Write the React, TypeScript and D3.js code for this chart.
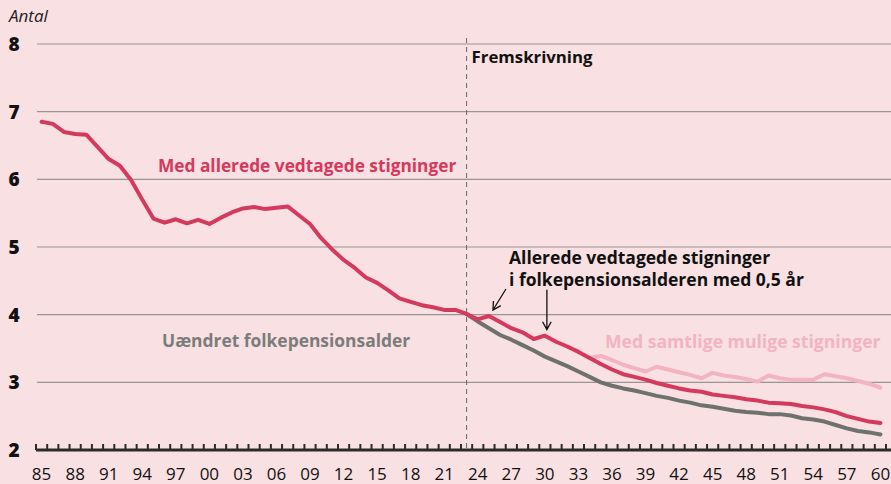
import React from 'react';
import * as d3 from 'd3';

// years and series (antal personer i arbejdsstyrken pr. folkepensionist)
const startYear = 1985;
const endYear = 2060;
const forecastYear = 2023;

const allerede = [
  6.85, 6.82, 6.7, 6.67, 6.66, 6.48, 6.3, 6.2, 5.99, 5.7, 5.42, 5.36, 5.41, 5.35, 5.4, 5.34, 5.43, 5.51, 5.57,
  5.59, 5.56, 5.58, 5.6, 5.47, 5.34, 5.13, 4.96, 4.81, 4.69, 4.55, 4.47, 4.36, 4.24, 4.19, 4.14, 4.11, 4.07,
  4.07, 4.01, 3.93, 3.98, 3.89, 3.8, 3.74, 3.64, 3.69, 3.6, 3.53, 3.45, 3.36, 3.27, 3.19, 3.12, 3.08, 3.04,
  2.99, 2.95, 2.91, 2.88, 2.86, 2.82, 2.8, 2.78, 2.75, 2.73, 2.7, 2.69, 2.68, 2.65, 2.63, 2.6, 2.56, 2.5,
  2.46, 2.42, 2.4,
];
const uaendretStart = 2023;
const uaendret = [
  4.01, 3.9, 3.8, 3.7, 3.63, 3.55, 3.47, 3.38, 3.31, 3.24, 3.16, 3.08, 3.0, 2.95, 2.91, 2.88, 2.84, 2.8, 2.77,
  2.73, 2.7, 2.66, 2.64, 2.61, 2.58, 2.56, 2.55, 2.53, 2.53, 2.51, 2.47, 2.45, 2.42, 2.37, 2.32, 2.28, 2.26,
  2.23,
];
const samtligeStart = 2034;
const samtlige = [
  3.36, 3.39, 3.33, 3.26, 3.21, 3.16, 3.23, 3.19, 3.15, 3.11, 3.06, 3.14, 3.1, 3.08, 3.05, 3.01, 3.1, 3.06,
  3.04, 3.04, 3.04, 3.12, 3.09, 3.06, 3.02, 2.98, 2.92,
];
const yTicks = [2, 3, 4, 5, 6, 7, 8];
const xLabelYears = d3.range(1985, 2061, 3);

const bg = '#f9e0e2';
const red = '#d5395d';
const grey = '#6e716e';
const pink = '#f2b4c1';
const font = "'Open Sans', sans-serif";

type Pt = { year: number; value: number };
const toPts = (start: number, vals: number[]): Pt[] => vals.map((v, i) => ({ year: start + i, value: v }));

export default function App() {
  const width = 891,
    height = 484;

  // scales
  const x = d3.scaleLinear().domain([startYear - 0.5, endYear + 0.5]).range([36, 886]);
  const y = d3.scaleLinear().domain([2, 8]).range([450, 44]);

  const line = d3
    .line<Pt>()
    .x((d) => x(d.year))
    .y((d) => y(d.value));

  const redPts = toPts(startYear, allerede);
  const greyPts = toPts(uaendretStart, uaendret);
  const pinkPts = toPts(samtligeStart, samtlige);

  const tickYears = d3.range(startYear - 0.5, endYear + 1, 1);

  // arrows pointing at the two 0.5-year steps
  const valAt = (yr: number) => allerede[yr - startYear];
  const arrow = (x1: number, y1: number, x2: number, y2: number) => {
    const a = Math.atan2(y2 - y1, x2 - x1);
    const len = 9;
    const h1 = [x2 - len * Math.cos(a - 0.5), y2 - len * Math.sin(a - 0.5)];
    const h2 = [x2 - len * Math.cos(a + 0.5), y2 - len * Math.sin(a + 0.5)];
    return `M${x1},${y1}L${x2},${y2}M${h1[0]},${h1[1]}L${x2},${y2}L${h2[0]},${h2[1]}`;
  };
  const tip1 = [x(2025) + 4, y(valAt(2025)) - 6];
  const tip2 = [x(2030) + 2, y(valAt(2030)) - 6];

  return (
    <svg
      width={width}
      height={height}
      style={{ position: 'absolute', top: 0, left: 0, background: bg }}
      fontFamily={font}
    >
      <rect width={width} height={height} fill={bg} />
      <text x={9} y={22} fontSize={17} fontStyle="italic" fill="#222">
        Antal
      </text>

      {/* gridlines + y labels */}
      {yTicks.map((t) => (
        <g key={t}>
          {t > 2 && <line x1={37} x2={width} y1={y(t)} y2={y(t)} stroke="#9a9595" strokeWidth={1.2} />}
          <text x={14} y={y(t) + 7} fontSize={19} fontWeight={800} textAnchor="middle" fill="#111">
            {t}
          </text>
        </g>
      ))}

      {/* forecast divider */}
      <line
        x1={x(forecastYear)}
        x2={x(forecastYear)}
        y1={y(8) - 6}
        y2={y(2)}
        stroke="#666"
        strokeWidth={1}
        strokeDasharray="5,4"
      />
      <text x={x(forecastYear) + 5} y={63} fontSize={16.8} fontWeight={700} fill="#111">
        Fremskrivning
      </text>

      {/* lines */}
      <path d={line(pinkPts) || ''} fill="none" stroke={pink} strokeWidth={4} strokeLinejoin="round" strokeLinecap="round" />
      <path d={line(greyPts) || ''} fill="none" stroke={grey} strokeWidth={4} strokeLinejoin="round" strokeLinecap="round" />
      <path d={line(redPts) || ''} fill="none" stroke={red} strokeWidth={4} strokeLinejoin="round" strokeLinecap="round" />

      {/* x axis */}
      <line x1={36} x2={width} y1={y(2)} y2={y(2)} stroke="#2b2b2b" strokeWidth={3} />
      {tickYears.map((t) => (
        <line key={t} x1={x(t)} x2={x(t)} y1={y(2)} y2={y(2) - 6} stroke="#2b2b2b" strokeWidth={2} />
      ))}
      {xLabelYears.map((yr) => (
        <text key={yr} x={x(yr)} y={480} fontSize={17} textAnchor="middle" fill="#111">
          {String(yr % 100).padStart(2, '0')}
        </text>
      ))}

      {/* series labels */}
      <text x={158} y={172} fontSize={17.3} fontWeight={700} fill={red}>
        Med allerede vedtagede stigninger
      </text>
      <text x={162} y={347} fontSize={17.4} fontWeight={700} fill="#7b7c7b">
        Uændret folkepensionsalder
      </text>
      <text x={605} y={348} fontSize={17.6} fontWeight={700} fill={pink}>
        Med samtlige mulige stigninger
      </text>
      <text x={509} y={264} fontSize={17.5} fontWeight={700} fill="#111">
        Allerede vedtagede stigninger
      </text>
      <text x={509} y={286} fontSize={17.5} fontWeight={700} fill="#111">
        i folkepensionsalderen med 0,5 år
      </text>
      <path d={arrow(tip1[0] + 13, tip1[1] - 21, tip1[0], tip1[1])} fill="none" stroke="#111" strokeWidth={1.3} />
      <path d={arrow(tip2[0], tip2[1] - 40, tip2[0], tip2[1])} fill="none" stroke="#111" strokeWidth={1.3} />
    </svg>
  );
}
